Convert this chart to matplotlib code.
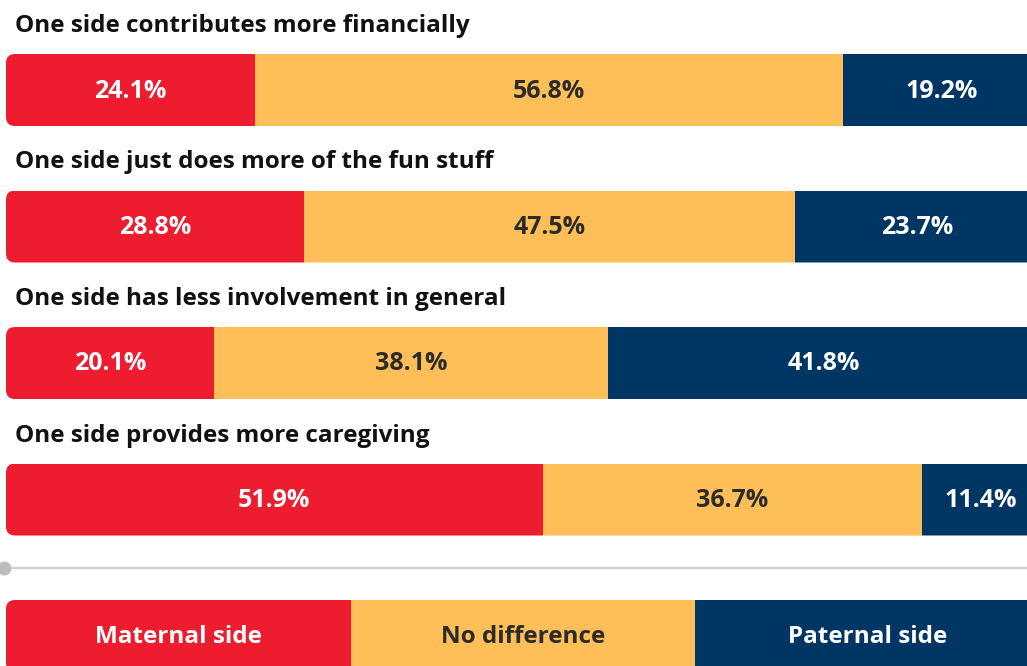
import matplotlib

matplotlib.use("Agg")
import matplotlib.pyplot as plt
from matplotlib.patches import FancyBboxPatch

RED = "#ed1c2f"
YELLOW = "#febe58"
NAVY = "#003663"
DARK = "#2b2b2b"

questions = [
    "One side contributes more financially",
    "One side just does more of the fun stuff",
    "One side has less involvement in general",
    "One side provides more caregiving",
]
maternal = [24.1, 28.8, 20.1, 51.9]
no_diff = [56.8, 47.5, 38.1, 36.7]
paternal = [19.2, 23.7, 41.8, 11.4]

legend_labels = ["Maternal side", "No difference", "Paternal side"]
colors = [RED, YELLOW, NAVY]
text_colors = ["white", DARK, "white"]

W, H = 1027, 666
PX = 10.34          # pixels per percent
X0 = 6              # pixel where 0% sits
ROW0, ROW_STEP, BAR_H = 90, 136.5, 72
RADIUS = 9

plt.rcParams["font.family"] = ["Open Sans", "DejaVu Sans"]

fig = plt.figure(figsize=(W / 100, H / 100), dpi=100, facecolor="white")
ax = fig.add_axes([0, 0, 1, 1])
ax.set_xlim(-X0 / PX, (W - X0) / PX)
ax.set_ylim(H, 0)
ax.axis("off")


def draw_row(ax, yc, values, labels, h, fs):
    total = sum(values)
    # rounded outline for the whole stacked bar, used as a clip
    clip = FancyBboxPatch(
        (0, yc - h / 2), total, h,
        boxstyle=f"round,pad=0,rounding_size={RADIUS / PX}",
        mutation_aspect=PX, fc="none", ec="none")
    ax.add_patch(clip)
    left = 0
    for i, (v, lab) in enumerate(zip(values, labels)):
        bars = ax.barh(yc, v, left=left, height=h, color=colors[i],
                       linewidth=0, zorder=2)
        for b in bars:
            b.set_clip_path(clip)
        ax.text(left + v / 2, yc + 1, lab, ha="center", va="center",
                color=text_colors[i], fontsize=fs, fontweight="bold", zorder=4)
        left += v


for k, q in enumerate(questions):
    yc = ROW0 + k * ROW_STEP
    vals = [maternal[k], no_diff[k], paternal[k]]
    draw_row(ax, yc, vals, [f"{v:.1f}%" for v in vals], BAR_H, 18)
    ax.text(15 / PX - X0 / PX, yc - 64, q, ha="left", va="center",
            color="#111111", fontsize=17.5, fontweight="bold")

# separator line with dot
ax.plot([-X0 / PX + 4 / PX, (W - X0) / PX], [568, 568],
        color="#cfcfcf", lw=1.6, zorder=1)
ax.plot([-X0 / PX + 4 / PX], [568], "o", color="#bdbdbd", ms=9, zorder=2)

# legend bar
draw_row(ax, 636, [100 / 3] * 3, legend_labels, 72, 17.5)

fig.savefig("out.png", dpi=100, facecolor="white")
